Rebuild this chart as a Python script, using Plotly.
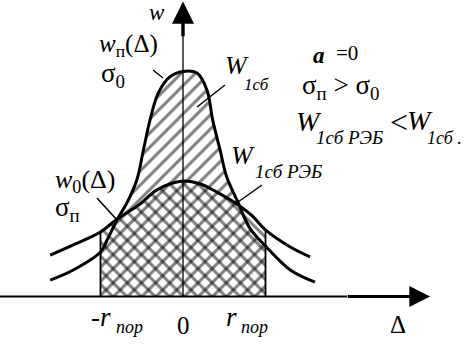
import plotly.graph_objects as go

# ---- data (Δ in units of r_пор, w normalised to the peak of the narrow curve) ----
narrow_x = [-1.61, -1.33, -1.00, -0.92, -0.80, -0.68, -0.56, -0.48, -0.40, -0.30, -0.16,
            0.00, 0.17, 0.29, 0.36, 0.45, 0.53, 0.66, 0.81, 1.00, 1.30, 1.60]
narrow_y = [0.073, 0.118, 0.198, 0.251, 0.340, 0.416, 0.518, 0.651, 0.784, 0.904, 0.976,
            1.000, 0.993, 0.918, 0.784, 0.651, 0.531, 0.424, 0.304, 0.224, 0.118, 0.064]

wide_x = [-1.61, -1.31, -1.00, -0.80, -0.52, -0.32, 0.00, 0.21, 0.41, 0.67, 0.84, 1.00, 1.30, 1.54]
wide_y = [0.184, 0.233, 0.287, 0.344, 0.411, 0.473, 0.513, 0.500, 0.464, 0.407, 0.358, 0.296, 0.220, 0.176]

r_threshold = 1.0          # r_пор
x_range = [-2.218, 3.527]
y_range = [-0.26, 1.318]

W, H = 474, 355
FONT = "Liberation Serif"


def P(xp, yp):
    """pixel position -> paper position (margins are zero)"""
    return xp / W, 1 - yp / H


def in_band(xs, ys):
    sel = [(x, y) for x, y in zip(xs, ys) if -r_threshold <= x <= r_threshold]
    return [s[0] for s in sel], [s[1] for s in sel]


fig = go.Figure()

# hatched areas inside [-r_пор, r_пор]
nx, ny = in_band(narrow_x, narrow_y)
wx, wy = in_band(wide_x, wide_y)
fig.add_trace(go.Scatter(x=nx, y=ny, mode="lines", line=dict(width=0, shape="spline", color="black"),
                         fill="tozeroy", fillcolor="rgba(0,0,0,0)",
                         fillpattern=dict(shape="/", size=10, solidity=0.3, fgcolor="black",
                                          bgcolor="rgba(0,0,0,0)"),
                         hoverinfo="skip", showlegend=False))
fig.add_trace(go.Scatter(x=wx, y=wy, mode="lines", line=dict(width=0, shape="spline", color="black"),
                         fill="tozeroy", fillcolor="rgba(0,0,0,0)",
                         fillpattern=dict(shape="\\", size=10, solidity=0.3, fgcolor="black",
                                          bgcolor="rgba(0,0,0,0)"),
                         hoverinfo="skip", showlegend=False))

# curves
for xs, ys in ((narrow_x, narrow_y), (wide_x, wide_y)):
    fig.add_trace(go.Scatter(x=xs, y=ys, mode="lines",
                             line=dict(color="black", width=3, shape="spline"),
                             hoverinfo="skip", showlegend=False))

# vertical lines at ±r_пор up to the wide curve
for xv in (-r_threshold, r_threshold):
    yv = wide_y[wide_x.index(xv)]
    fig.add_trace(go.Scatter(x=[xv, xv], y=[0, yv], mode="lines",
                             line=dict(color="black", width=1.8),
                             hoverinfo="skip", showlegend=False))

# axes
shapes = []
shapes.append(dict(type="line", xref="x", yref="y", x0=x_range[0], x1=1.99, y0=0, y1=0,
                   line=dict(color="black", width=2)))
shapes.append(dict(type="line", xref="x", yref="y", x0=0, x1=0, y0=0, y1=1.16,
                   line=dict(color="black", width=1.3)))

annotations = []
# arrows
annotations.append(dict(x=2.995, y=0, ax=1.98, ay=0, xref="x", yref="y", axref="x", ayref="y",
                        showarrow=True, arrowhead=2, arrowsize=1.3, arrowwidth=3.2,
                        arrowcolor="black", text=""))
annotations.append(dict(x=0, y=1.311, ax=0, ay=1.15, xref="x", yref="y", axref="x", ayref="y",
                        showarrow=True, arrowhead=2, arrowsize=1.3, arrowwidth=3.4,
                        arrowcolor="black", text=""))

# leader lines (pixel coordinates of the figure)
leaders = [((153, 70), (163, 78)), ((197, 107), (225, 85)),
           ((97, 198), (117, 220)), ((262, 185), (238, 202))]
for (a, b) in leaders:
    x0, y0 = P(*a)
    x1, y1 = P(*b)
    shapes.append(dict(type="line", xref="paper", yref="paper", x0=x0, y0=y0, x1=x1, y1=y1,
                       line=dict(color="black", width=1.5)))


def label(text, xp, yp, size, xanchor="center"):
    x, y = P(xp, yp)
    annotations.append(dict(text=text, x=x, y=y, xref="paper", yref="paper",
                            xanchor=xanchor, yanchor="middle", showarrow=False, borderpad=0,
                            font=dict(family=FONT, size=size, color="black")))


label("<i>w</i>", 157, 13, 23)
label("<i>w</i><sub>п</sub>(Δ)", 98, 45, 25, "left")
label("σ<sub>0</sub>", 100, 75, 27, "left")
label("<i>W</i>", 237, 66, 26)
label("<i>1сб</i>", 243, 84, 17, "left")
label("<b><i>a</i></b>", 319, 55, 23)
label("=0", 347, 53, 21)
label("σ<sub>п</sub> > σ<sub>0</sub>", 340, 87, 27)
label("<i>W</i>", 309, 121, 28)
label("<i>1сб РЭБ</i>", 315, 138, 19, "left")
label("<", 399, 122, 32)
label("<i>W</i>", 420, 120, 28)
label("<i>1сб .</i>", 426, 138, 18, "left")
label("<i>W</i>", 243, 155, 26)
label("<i>1сб РЭБ</i>", 254, 171, 19, "left")
label("<i>w</i><sub>0</sub>(Δ)", 54, 181, 26, "left")
label("σ<sub>п</sub>", 54, 209, 27, "left")
label("-<i>r</i>", 101, 317, 27)
label("<i>пор</i>", 129, 327, 18)
label("0", 183, 325, 25)
label("<i>r</i>", 231, 317, 27)
label("<i>пор</i>", 254, 327, 18)
label("Δ", 398, 324, 25)

fig.update_layout(
    width=W, height=H, margin=dict(l=0, r=0, t=0, b=0),
    paper_bgcolor="white", plot_bgcolor="white",
    font=dict(family=FONT, color="black"),
    xaxis=dict(range=x_range, visible=False, fixedrange=True),
    yaxis=dict(range=y_range, visible=False, fixedrange=True),
    shapes=shapes, annotations=annotations, showlegend=False,
)

fig.write_html("out.html")
